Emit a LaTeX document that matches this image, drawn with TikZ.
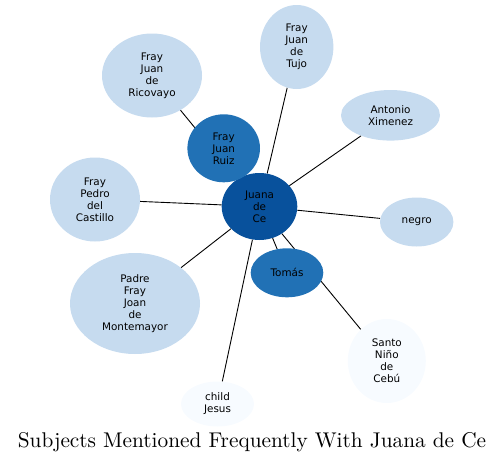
\documentclass[tikz,border=0pt]{standalone}
\usepackage{fontspec}
\newfontfamily\nodefont{DejaVu Sans}
\usetikzlibrary{shapes.geometric}
\pgfdeclarelayer{background}
\pgfsetlayers{background,main}
\definecolor{cdark}{HTML}{08519C}
\definecolor{cmid}{HTML}{2171B5}
\definecolor{clight}{HTML}{C6DBEF}
\definecolor{cpale}{HTML}{F7FBFF}
\tikzset{
  ent/.style={ellipse, inner sep=0pt, align=center, text=black,
    font=\nodefont\fontsize{10.4}{12}\selectfont},
  edge/.style={draw=black, line width=0.9pt},
  titlestyle/.style={inner sep=0pt, anchor=base, scale=2.13, transform shape,
    font=\fontsize{10}{12}\selectfont},
}
\begin{document}
\begin{tikzpicture}[x=1pt,y=-1pt]
\useasboundingbox (0,0) rectangle (504,463);
\node[ent, fill=cdark, minimum width=75.6pt, minimum height=67pt] (juana) at (259.5,206.5) {Juana\\de\\Ce};
\node[ent, fill=cmid, minimum width=72.6pt, minimum height=68pt] (ruiz) at (223.7,148.3) {Fray\\Juan\\Ruiz};
\node[ent, fill=cmid, minimum width=72.6pt, minimum height=49pt] (tomas) at (287,272.8) {Tomás};
\node[ent, fill=clight, minimum width=73.4pt, minimum height=84pt] (tujo) at (296.7,47) {Fray\\Juan\\de\\Tujo};
\node[ent, fill=clight, minimum width=100pt, minimum height=84pt] (rico) at (152,75.5) {Fray\\Juan\\de\\Ricovayo};
\node[ent, fill=clight, minimum width=99pt, minimum height=50.6pt] (anto) at (390.5,115.3) {Antonio\\Ximenez};
\node[ent, fill=clight, minimum width=73.4pt, minimum height=49pt] (negro) at (416.7,222) {negro};
\node[ent, fill=clight, minimum width=90pt, minimum height=84pt] (cast) at (95,199.5) {Fray\\Pedro\\del\\Castillo};
\node[ent, fill=clight, minimum width=130pt, minimum height=101pt] (monte) at (135,303.5) {Padre\\Fray\\Joan\\de\\Montemayor};
\node[ent, fill=cpale, minimum width=78pt, minimum height=84pt] (santo) at (386.8,361) {Santo\\Niño\\de\\Cebú};
\node[ent, fill=cpale, minimum width=73pt, minimum height=45pt] (child) at (217.5,404) {child\\Jesus};
\begin{pgfonlayer}{background}
\foreach \t in {ruiz,tomas,tujo,rico,anto,negro,cast,monte,santo,child}
  \draw[edge] (juana) -- (\t);
\end{pgfonlayer}
\node[titlestyle] (title) at (252,447.7) {Subjects Mentioned Frequently With Juana de Ce};
\end{tikzpicture}
\end{document}
